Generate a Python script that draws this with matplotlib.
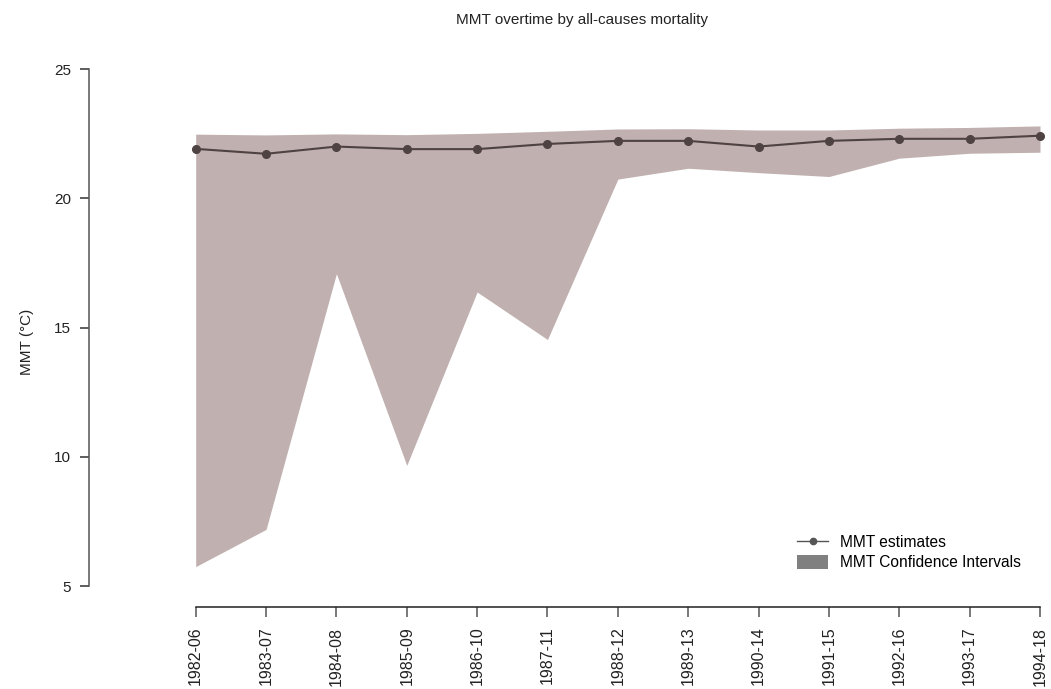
import matplotlib
matplotlib.use("Agg")
import matplotlib.pyplot as plt
from matplotlib.lines import Line2D
from matplotlib.patches import Patch

plt.rcParams['font.family'] = ['Liberation Sans', 'DejaVu Sans']

periods = ["1982-06", "1983-07", "1984-08", "1985-09", "1986-10", "1987-11",
           "1988-12", "1989-13", "1990-14", "1991-15", "1992-16", "1993-17",
           "1994-18"]
mmt = [21.92, 21.73, 22.01, 21.91, 21.91, 22.11, 22.23, 22.23, 22.01,
       22.23, 22.31, 22.31, 22.43]
ci_low = [5.75, 7.19, 17.09, 9.67, 16.38, 14.54, 20.75, 21.17, 21.00,
          20.85, 21.56, 21.75, 21.79]
ci_high = [22.49, 22.46, 22.50, 22.47, 22.52, 22.60, 22.69, 22.70, 22.65,
           22.65, 22.72, 22.75, 22.81]
y_ticks = [5, 10, 15, 20, 25]

W, H = 1051, 689
fig = plt.figure(figsize=(W / 100, H / 100), dpi=100)

# axes box in pixels: y axis line at x=88.7, x axis line at y=607.3
left_px, right_px, top_px, bottom_px = 88.7, 1040.0, 69.3, 607.3
ax = fig.add_axes([left_px / W, 1 - bottom_px / H,
                   (right_px - left_px) / W, (bottom_px - top_px) / H])

x = list(range(1, len(periods) + 1))
unit_px = (right_px - 195.7) / (len(periods) - 1)
ax.set_xlim(1 - (195.7 - left_px) / unit_px, len(periods))
y_unit = (586.0 - 69.3) / 20.0
ax.set_ylim(5 - (bottom_px - 586.0) / y_unit, 25)

fill_col = "#c1b0b0"
line_col = "#4e4242"
text_col = "#222222"

ax.fill_between(x, ci_low, ci_high, color=fill_col, linewidth=0, zorder=1)
ax.plot(x, mmt, color=line_col, linewidth=1.5, marker="o", markersize=5.5,
        zorder=3, clip_on=False)

for side in ("top", "right"):
    ax.spines[side].set_visible(False)
ax.spines["left"].set_bounds(5, 25)
ax.spines["bottom"].set_bounds(1, len(periods))
ax.spines["left"].set_color("#555555")
ax.spines["bottom"].set_color("#222222")
ax.spines["left"].set_linewidth(1.1)
ax.spines["bottom"].set_linewidth(1.1)

ax.set_yticks(y_ticks)
ax.set_yticklabels([str(t) for t in y_ticks], fontsize=11, color=text_col)
ax.set_xticks(x)
ax.set_xticklabels(periods, rotation=90, fontsize=11.5, color=text_col)
ax.tick_params(axis="y", length=6.5, width=1.1, color="#333333", pad=6)
ax.tick_params(axis="x", length=7, width=1.1, color="#555555", pad=7)

fig.text(27 / W, 1 - 342 / H, "MMT (°C)", rotation=90, ha="center",
         va="center", fontsize=11, color=text_col)

fig.text(582 / W, 1 - 20 / H, "MMT overtime by all-causes mortality",
         ha="center", va="center", fontsize=11, color=text_col)

handles = [
    Line2D([0], [0], color="#555555", linewidth=1, marker="o", markersize=4.5),
    Patch(facecolor="#808080", edgecolor="none"),
]
fig.legend(handles, ["MMT estimates", "MMT Confidence Intervals"],
           loc="upper left", bbox_to_anchor=(797 / W, 1 - 535 / H),
           frameon=False, fontsize=11.2, handlelength=2.0,
           handletextpad=0.75, labelspacing=0.3, borderpad=0,
           borderaxespad=0, handleheight=1.0)

fig.savefig("out.png", dpi=100)
